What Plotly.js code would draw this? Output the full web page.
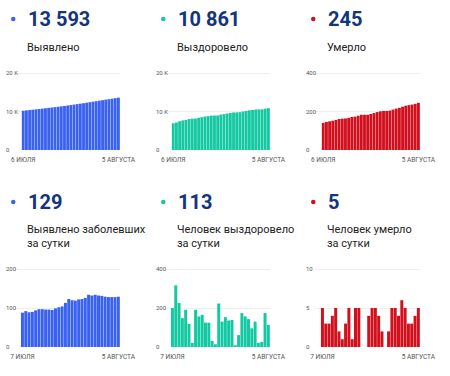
<!DOCTYPE html>
<html><head><meta charset="utf-8">
<script src="https://cdn.plot.ly/plotly-3.0.1.min.js"></script>
<style>body{margin:0;background:#fff}#c{width:450px;height:376px}</style>
</head><body><div id="c"></div>
<script>
// Categories
const datesCum = ['06.07','07.07','08.07','09.07','10.07','11.07','12.07','13.07','14.07','15.07','16.07','17.07','18.07','19.07','20.07','21.07','22.07','23.07','24.07','25.07','26.07','27.07','28.07','29.07','30.07','31.07','01.08','02.08','03.08','04.08','05.08'];
const datesDaily = ['07.07','08.07','09.07','10.07','11.07','12.07','13.07','14.07','15.07','16.07','17.07','18.07','19.07','20.07','21.07','22.07','23.07','24.07','25.07','26.07','27.07','28.07','29.07','30.07','31.07','01.08','02.08','03.08','04.08','05.08'];

// Cumulative series
const casesTotal = [10203,10291,10383,10472,10562,10656,10753,10850,10946,11042,11137,11236,11338,11442,11555,11678,11798,11917,12039,12162,12288,12422,12554,12688,12820,12951,13080,13208,13336,13464,13593];
const recoveredTotal = [6948,7148,7464,7690,7838,8029,8147,8168,8359,8516,8681,8806,8931,8962,8976,9199,9329,9482,9618,9757,9766,9827,10001,10158,10301,10397,10527,10548,10574,10748,10861];
const deathsTotal = [141,146,149,152,156,161,163,164,167,172,173,178,183,183,183,187,192,197,201,203,203,205,210,215,219,225,230,233,236,240,245];

// Daily series
const casesDaily = [88,92,89,90,94,97,97,96,96,95,99,102,104,113,123,120,119,122,123,126,134,132,134,132,131,129,128,128,128,129];
const recoveredDaily = [200,316,226,148,191,118,21,191,157,165,125,125,31,14,223,130,153,136,139,9,61,174,157,143,96,130,21,26,174,113];
const deathsDaily = [5,3,3,4,5,2,1,3,5,1,5,5,0,0,4,5,5,4,2,0,2,5,5,4,6,5,3,3,4,5];

// Texts
const bigNumbers = ['13 593','10 861','245','129','113','5'];
const captions = [['Выявлено'],['Выздоровело'],['Умерло'],['Выявлено заболевших','за сутки'],['Человек выздоровело','за сутки'],['Человек умерло','за сутки']];
const xTickTop = ['6 ИЮЛЯ','5 АВГУСТА'];
const xTickBottom = ['7 ИЮЛЯ','5 АВГУСТА'];
const yTicks = [[0,10000,20000],[0,10000,20000],[0,200,400],[0,100,200],[0,200,400],[0,5,10]];
const yTickText = [['0','10 K','20 K'],['0','10 K','20 K'],['0','200','400'],['0','100','200'],['0','200','400'],['0','5','10']];

const BLUE='#3a62f2', TEAL='#14c9a1', RED='#d10f1d';
const colors=[BLUE,TEAL,RED,BLUE,TEAL,RED];
const seriesY=[casesTotal,recoveredTotal,deathsTotal,casesDaily,recoveredDaily,deathsDaily];

const W=450,H=376;
const px=x=>x/W, py=y=>1-y/H;
const ox=[0,150,300];
const rows=[{top:73,bot:150,numY:19,labY:[47]},{top:269,bot:347,numY:202,labY:[229,243]}];
const EXT=0.04;

const data=[], layout={width:W,height:H,margin:{l:0,r:0,t:0,b:0},paper_bgcolor:'#fff',plot_bgcolor:'rgba(0,0,0,0)',
  showlegend:false,bargap:0.1,font:{family:'Roboto, sans-serif'},annotations:[],shapes:[]};

for(let k=0;k<6;k++){
  const r=rows[Math.floor(k/3)], o=ox[k%3], n=k+1;
  const xs = k<3?datesCum:datesDaily;
  const xk='x'+(n>1?n:''), yk='y'+(n>1?n:'');
  data.push({type:'bar',x:xs,y:seriesY[k],xaxis:xk,yaxis:yk,marker:{color:colors[k],line:{width:0}},hoverinfo:'none'});
  const nb=xs.length;
  const hgt=r.bot-r.top;
  layout['xaxis'+(n>1?n:'')]={domain:[px(o+15),px(o+120)],anchor:yk,type:'category',
    range:k<3?[-2.6,nb-0.5]:[-2.25,nb-0.5],
    tickvals:[xs[0],xs[nb-1]],ticktext:k<3?xTickTop:xTickBottom,ticklabelstandoff:4,
    tickfont:{size:6.5,color:'#555'},showgrid:false,zeroline:false,showline:false,ticks:'',fixedrange:true,automargin:false};
  const mx=yTicks[k][2];
  layout['yaxis'+(n>1?n:'')]={domain:[py(r.bot),py(r.top-hgt*EXT)],anchor:'free',position:px(o+2),side:'left',
    ticklabelposition:'inside',ticklabeloverflow:'allow',range:[0,mx*(1+EXT)],tickvals:yTicks[k],ticktext:yTickText[k],
    tickfont:{size:6,color:'#555'},showgrid:true,gridcolor:'#eeeeee',gridwidth:1,zeroline:false,showline:false,ticks:'',fixedrange:true,automargin:false};
  layout.annotations.push({xref:'paper',yref:'paper',x:px(o+26),y:py(r.numY),xanchor:'left',yanchor:'middle',
    text:'<b>'+bigNumbers[k]+'</b>',showarrow:false,font:{size:20,color:'#13357d',family:'Roboto, sans-serif'}});
  captions[k].forEach((t,i)=>layout.annotations.push({xref:'paper',yref:'paper',x:px(o+25),y:py(r.labY[i]),xanchor:'left',yanchor:'middle',
    text:t,showarrow:false,font:{size:11,color:'#222'}}));
  layout.shapes.push({type:'circle',xref:'paper',yref:'paper',x0:px(o+11),x1:px(o+15.5),y0:py(r.numY+2.2),y1:py(r.numY-2.2),fillcolor:colors[k],line:{width:0}});
}
Plotly.newPlot('c',data,layout,{displayModeBar:false,staticPlot:true});
</script></body></html>
